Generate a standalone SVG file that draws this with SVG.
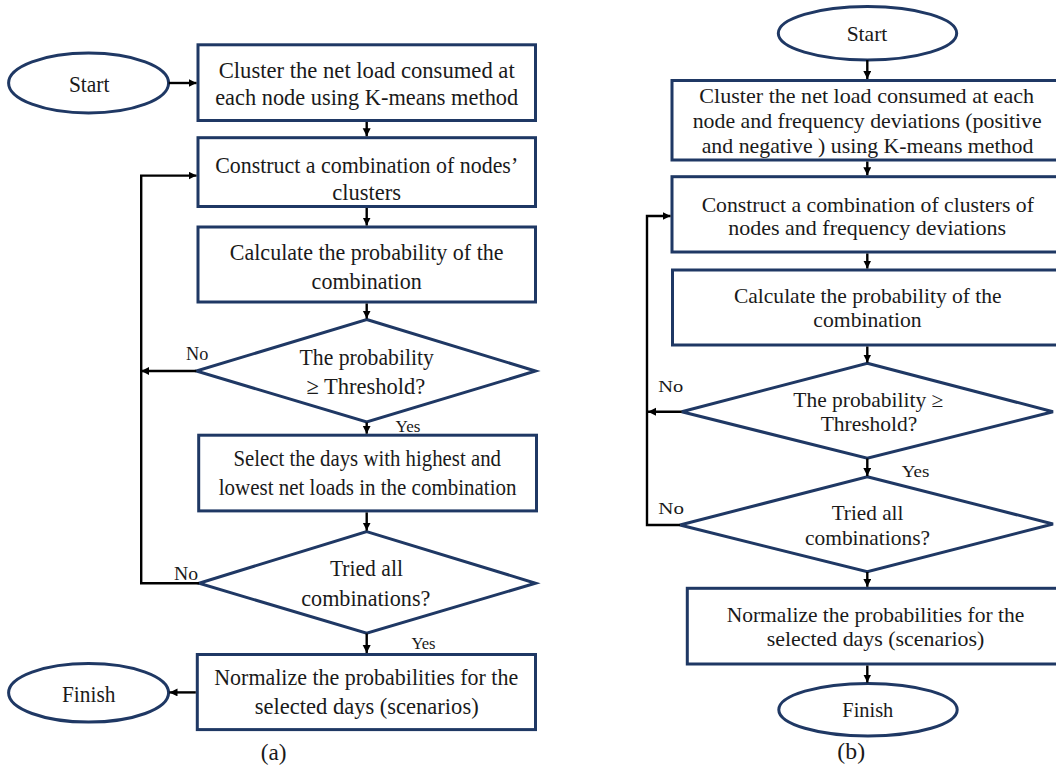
<svg xmlns="http://www.w3.org/2000/svg" width="1056" height="767" viewBox="0 0 1056 767">
  <style>
    .shape { fill: #ffffff; stroke: #1f3864; stroke-width: 3; }
    .conn { fill: none; stroke: #000000; stroke-width: 2.4; }
    .t { font-family: "Liberation Serif", "Times New Roman", serif; fill: #1a1a1a; text-anchor: middle; }
    .a { font-size: 23px; }
    .b { font-size: 21px; }
    .lbl { font-size: 17px; }
  </style>
  <defs>
    <marker id="arrow" markerUnits="userSpaceOnUse" markerWidth="9" markerHeight="9" refX="8" refY="4" orient="auto">
      <path d="M0,0 L8,4 L0,8 z" fill="#000000"/>
    </marker>
  </defs>
  <rect width="1056" height="767" fill="#ffffff"/>

  <!-- Flowchart (a) -->
  <g id="a-start">
    <ellipse class="shape" cx="88.6" cy="83" rx="80" ry="30"/>
    <text class="t a" x="89.2" y="92" textLength="40.6" lengthAdjust="spacingAndGlyphs">Start</text>
  </g>
  <g id="a-cluster">
    <rect class="shape" x="198" y="44.8" width="337.5" height="75.7"/>
    <text class="t a" x="366.7" y="77.5" textLength="296" lengthAdjust="spacingAndGlyphs">Cluster the net load consumed at</text>
    <text class="t a" x="366.7" y="105" textLength="303" lengthAdjust="spacingAndGlyphs">each node using K-means method</text>
  </g>
  <g id="a-construct">
    <rect class="shape" x="198" y="137.7" width="337.5" height="68.8"/>
    <text class="t a" x="366.7" y="173" textLength="303" lengthAdjust="spacingAndGlyphs">Construct a combination of nodes’</text>
    <text class="t a" x="366.7" y="200" textLength="68.9" lengthAdjust="spacingAndGlyphs">clusters</text>
  </g>
  <g id="a-calculate">
    <rect class="shape" x="198" y="227" width="337.5" height="75"/>
    <text class="t a" x="366.7" y="259.6" textLength="273.8" lengthAdjust="spacingAndGlyphs">Calculate the probability of the</text>
    <text class="t a" x="366.7" y="288.6" textLength="110.2" lengthAdjust="spacingAndGlyphs">combination</text>
  </g>
  <g id="a-threshold">
    <polygon class="shape" points="366.7,319.5 535.5,371 366.7,422 196.3,371"/>
    <text class="t a" x="366.7" y="365" textLength="134.3" lengthAdjust="spacingAndGlyphs">The probability</text>
    <text class="t a" x="365.9" y="394" textLength="118.8" lengthAdjust="spacingAndGlyphs">≥ Threshold?</text>
  </g>
  <g id="a-select">
    <rect class="shape" x="198.7" y="435.2" width="337.8" height="75.7"/>
    <text class="t a" x="367.2" y="466.2" textLength="267.5" lengthAdjust="spacingAndGlyphs">Select the days with highest and</text>
    <text class="t a" x="367.6" y="495.4" textLength="297.8" lengthAdjust="spacingAndGlyphs">lowest net loads in the combination</text>
  </g>
  <g id="a-tried">
    <polygon class="shape" points="366.7,531.6 535.5,583.2 366.7,633.2 199,583.2"/>
    <text class="t a" x="366.4" y="576.3" textLength="73" lengthAdjust="spacingAndGlyphs">Tried all</text>
    <text class="t a" x="365.8" y="605.6" textLength="129.1" lengthAdjust="spacingAndGlyphs">combinations?</text>
  </g>
  <g id="a-normalize">
    <rect class="shape" x="197.3" y="654.5" width="338.2" height="75.1"/>
    <text class="t a" x="366.2" y="684.8" textLength="304" lengthAdjust="spacingAndGlyphs">Normalize the probabilities for the</text>
    <text class="t a" x="366.7" y="714" textLength="223.9" lengthAdjust="spacingAndGlyphs">selected days (scenarios)</text>
  </g>
  <g id="a-finish">
    <ellipse class="shape" cx="88.6" cy="692.8" rx="80" ry="29.3"/>
    <text class="t a" x="88.7" y="702" textLength="53.4" lengthAdjust="spacingAndGlyphs">Finish</text>
  </g>

  <!-- Flowchart (b) -->
  <g id="b-start">
    <ellipse class="shape" cx="867.5" cy="33.3" rx="89.2" ry="26.7"/>
    <text class="t b" x="867" y="40.7" textLength="40.7" lengthAdjust="spacingAndGlyphs">Start</text>
  </g>
  <g id="b-cluster">
    <rect class="shape" x="672" y="80.5" width="392" height="79.5"/>
    <text class="t b" x="866.7" y="103.3" textLength="334.7" lengthAdjust="spacingAndGlyphs">Cluster the net load consumed at each</text>
    <text class="t b" x="867.2" y="128.3" textLength="349" lengthAdjust="spacingAndGlyphs">node and frequency deviations (positive</text>
    <text class="t b" x="867.5" y="153.3" textLength="331.7" lengthAdjust="spacingAndGlyphs">and negative ) using K-means method</text>
  </g>
  <g id="b-construct">
    <rect class="shape" x="672" y="176.7" width="392" height="75.3"/>
    <text class="t b" x="867.8" y="211.5" textLength="332.3" lengthAdjust="spacingAndGlyphs">Construct a combination of clusters of</text>
    <text class="t b" x="867.2" y="235" textLength="277.7" lengthAdjust="spacingAndGlyphs">nodes and frequency deviations</text>
  </g>
  <g id="b-calculate">
    <rect class="shape" x="672.5" y="270" width="392" height="75"/>
    <text class="t b" x="867.8" y="303.3" textLength="267.7" lengthAdjust="spacingAndGlyphs">Calculate the probability of the</text>
    <text class="t b" x="867.5" y="326.7" textLength="108.3" lengthAdjust="spacingAndGlyphs">combination</text>
  </g>
  <g id="b-threshold">
    <polygon class="shape" points="867.3,363.3 1053,411.7 867.3,458.3 681.7,411.7"/>
    <text class="t b" x="868.3" y="406.7" textLength="150" lengthAdjust="spacingAndGlyphs">The probability ≥</text>
    <text class="t b" x="869" y="430.7" textLength="96.7" lengthAdjust="spacingAndGlyphs">Threshold?</text>
  </g>
  <g id="b-tried">
    <polygon class="shape" points="867.3,476.7 1053,524 867.3,571.7 680,525"/>
    <text class="t b" x="867.5" y="520" textLength="71.7" lengthAdjust="spacingAndGlyphs">Tried all</text>
    <text class="t b" x="867.5" y="545" textLength="125" lengthAdjust="spacingAndGlyphs">combinations?</text>
  </g>
  <g id="b-normalize">
    <rect class="shape" x="687.3" y="588.3" width="377" height="75.7"/>
    <text class="t b" x="875.5" y="621.7" textLength="297.7" lengthAdjust="spacingAndGlyphs">Normalize the probabilities for the</text>
    <text class="t b" x="875.5" y="646" textLength="217.7" lengthAdjust="spacingAndGlyphs">selected days (scenarios)</text>
  </g>
  <g id="b-finish">
    <ellipse class="shape" cx="868" cy="709.7" rx="89.2" ry="26.3"/>
    <text class="t b" x="867.8" y="717.3" textLength="51" lengthAdjust="spacingAndGlyphs">Finish</text>
  </g>

  <!-- Connectors -->
  <g id="connectors">
    <!-- (a) -->
    <line class="conn" x1="168.7" y1="83" x2="196.5" y2="83" marker-end="url(#arrow)"/>
    <line class="conn" x1="366.7" y1="122" x2="366.7" y2="136.2" marker-end="url(#arrow)"/>
    <line class="conn" x1="366.7" y1="208" x2="366.7" y2="225.5" marker-end="url(#arrow)"/>
    <line class="conn" x1="366.7" y1="303.5" x2="366.7" y2="318.6" marker-end="url(#arrow)"/>
    <line class="conn" x1="366.7" y1="422.5" x2="366.7" y2="433.7" marker-end="url(#arrow)"/>
    <line class="conn" x1="366.7" y1="512.4" x2="366.7" y2="530.6" marker-end="url(#arrow)"/>
    <line class="conn" x1="366.7" y1="633.5" x2="366.7" y2="653" marker-end="url(#arrow)"/>
    <line class="conn" x1="195.8" y1="692.4" x2="169.5" y2="692.4" marker-end="url(#arrow)"/>
    <line class="conn" x1="196.3" y1="371" x2="141.2" y2="371" marker-end="url(#arrow)"/>
    <polyline class="conn" points="199,583.2 141.2,583.2 141.2,175.6 196.5,175.6" marker-end="url(#arrow)"/>
    <!-- (b) -->
    <line class="conn" x1="867.3" y1="60" x2="867.3" y2="79" marker-end="url(#arrow)"/>
    <line class="conn" x1="867.3" y1="161.5" x2="867.3" y2="175.2" marker-end="url(#arrow)"/>
    <line class="conn" x1="867.3" y1="253.5" x2="867.3" y2="268.5" marker-end="url(#arrow)"/>
    <line class="conn" x1="867.3" y1="346.5" x2="867.3" y2="362.5" marker-end="url(#arrow)"/>
    <line class="conn" x1="867.3" y1="458.5" x2="867.3" y2="476" marker-end="url(#arrow)"/>
    <line class="conn" x1="867.3" y1="572" x2="867.3" y2="586.8" marker-end="url(#arrow)"/>
    <line class="conn" x1="867.3" y1="665.5" x2="867.3" y2="682.5" marker-end="url(#arrow)"/>
    <line class="conn" x1="681.7" y1="411.7" x2="648" y2="411.7" marker-end="url(#arrow)"/>
    <polyline class="conn" points="680,525 647,525 647,216 670.5,216" marker-end="url(#arrow)"/>
  </g>

  <!-- Branch labels -->
  <g id="labels">
    <text class="t" style="font-size:18px" x="197.2" y="360" textLength="22.3" lengthAdjust="spacingAndGlyphs">No</text>
    <text class="t" style="font-size:16px" x="408" y="432" textLength="24.8" lengthAdjust="spacingAndGlyphs">Yes</text>
    <text class="t" style="font-size:18px" x="186" y="579.8" textLength="24.1" lengthAdjust="spacingAndGlyphs">No</text>
    <text class="t" style="font-size:16px" x="423.5" y="648.7" textLength="24.1" lengthAdjust="spacingAndGlyphs">Yes</text>
    <text class="t lbl" x="670.8" y="392.3" textLength="25" lengthAdjust="spacingAndGlyphs">No</text>
    <text class="t lbl" x="915.5" y="476.7" textLength="27.7" lengthAdjust="spacingAndGlyphs">Yes</text>
    <text class="t lbl" x="671.2" y="514" textLength="25.7" lengthAdjust="spacingAndGlyphs">No</text>
  </g>

  <!-- Panel captions -->
  <g id="captions">
    <text class="t a" x="273.6" y="760" textLength="25.8" lengthAdjust="spacingAndGlyphs">(a)</text>
    <text class="t a" x="851.2" y="759" textLength="27.7" lengthAdjust="spacingAndGlyphs">(b)</text>
  </g>
</svg>
